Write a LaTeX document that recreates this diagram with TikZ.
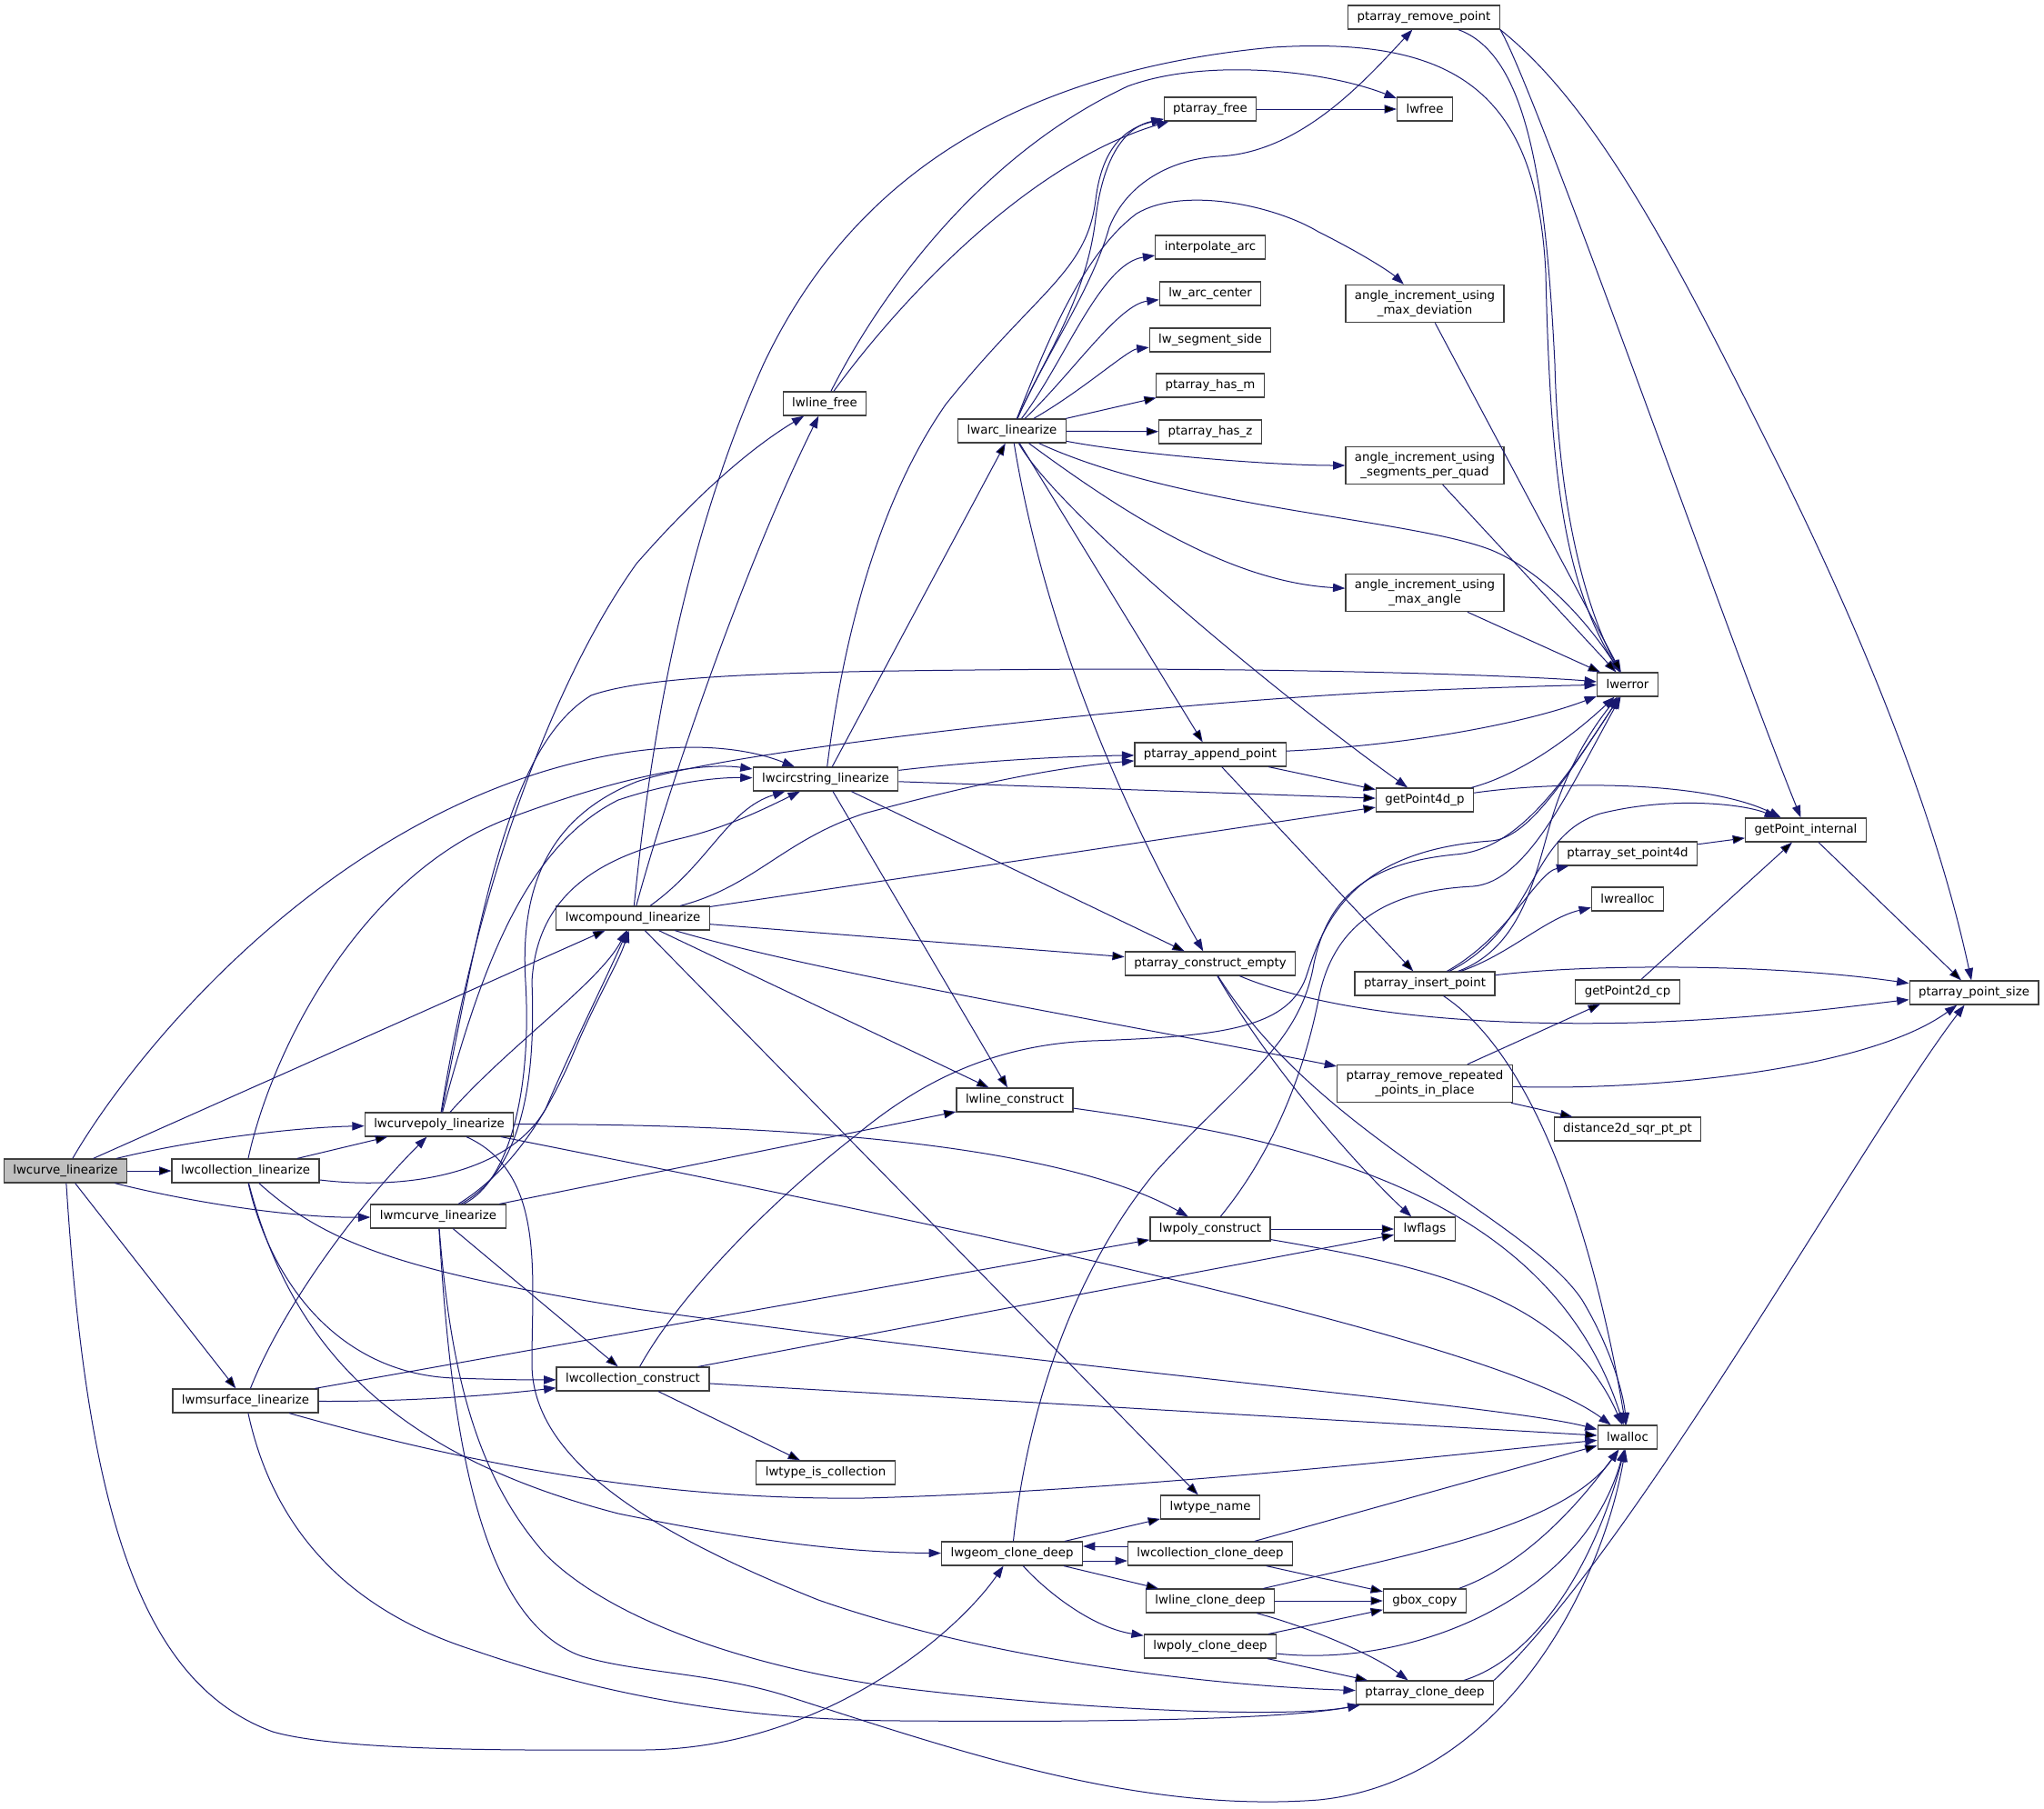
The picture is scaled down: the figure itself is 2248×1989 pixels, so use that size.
\documentclass[tikz,border=0pt]{standalone}
\usepackage{fontspec}
\setmainfont{DejaVu Sans}
\usetikzlibrary{arrows.meta}
\definecolor{edgeblue}{HTML}{191970}

\begin{document}
\begin{tikzpicture}[x=0.75pt, y=-0.75pt,
    fn/.style = {draw=black!75, line width=0.9pt, fill=white, font=\fontsize{10}{11.4}\selectfont,
                 inner xsep=7.5pt, inner ysep=2pt, minimum height=19.5pt},
    fntwo/.style = {fn, align=center, minimum height=31pt},
    arr/.style = {draw=edgeblue, line width=0.75pt, -{Triangle[length=10pt, width=7pt]}}]
    \useasboundingbox (0,0) rectangle (2248,1989);

    \node[fn, fill=black!25] (curve) at (72,1288) {lwcurve\_linearize};
    \node[fn] (colllin)  at (270,1288)  {lwcollection\_linearize};
    \node[fn] (msurf)    at (270,1541)  {lwmsurface\_linearize};
    \node[fn] (cpoly)    at (483,1237)  {lwcurvepoly\_linearize};
    \node[fn] (mcurve)   at (482,1338)  {lwmcurve\_linearize};
    \node[fn] (compound) at (696,1010)  {lwcompound\_linearize};
    \node[fn] (collcons) at (696,1517)  {lwcollection\_construct};
    \node[fn] (circ)     at (908,857)   {lwcircstring\_linearize};
    \node[fn] (linefree) at (907,444)   {lwline\_free};
    \node[fn] (iscoll)   at (908,1620)  {lwtype\_is\_collection};
    \node[fn] (arc)      at (1113,474)  {lwarc\_linearize};
    \node[fn] (linecons) at (1116,1210) {lwline\_construct};
    \node[fn] (gclone)   at (1113,1709) {lwgeom\_clone\_deep};
    \node[fn] (pafree)   at (1331,120)  {ptarray\_free};
    \node[fn] (interp)   at (1331,272)  {interpolate\_arc};
    \node[fn] (arccen)   at (1331,323)  {lw\_arc\_center};
    \node[fn] (segside)  at (1331,374)  {lw\_segment\_side};
    \node[fn] (hasm)     at (1331,424)  {ptarray\_has\_m};
    \node[fn] (hasz)     at (1331,475)  {ptarray\_has\_z};
    \node[fn] (append)   at (1331,830)  {ptarray\_append\_point};
    \node[fn] (cempty)   at (1331,1060) {ptarray\_construct\_empty};
    \node[fn] (polycons) at (1331,1352) {lwpoly\_construct};
    \node[fn] (tname)    at (1331,1658) {lwtype\_name};
    \node[fn] (cclone)   at (1331,1709) {lwcollection\_clone\_deep};
    \node[fn] (lclone)   at (1331,1761) {lwline\_clone\_deep};
    \node[fn] (pclone)   at (1331,1811) {lwpoly\_clone\_deep};
    \node[fn] (rmpt)     at (1566,19)   {ptarray\_remove\_point};
    \node[fn] (lwfree)   at (1567,120)  {lwfree};
    \node[fntwo] (maxdev)  at (1567,334) {angle\_increment\_using\\\_max\_deviation};
    \node[fntwo] (segquad) at (1567,512) {angle\_increment\_using\\\_segments\_per\_quad};
    \node[fntwo] (maxang)  at (1567,652) {angle\_increment\_using\\\_max\_angle};
    \node[fn] (getpfour) at (1567,880)  {getPoint4d\_p};
    \node[fn] (insert)   at (1567,1082) {ptarray\_insert\_point};
    \node[fntwo] (rmrep) at (1567,1192) {ptarray\_remove\_repeated\\\_points\_in\_place};
    \node[fn] (flags)    at (1567,1352) {lwflags};
    \node[fn] (gbox)     at (1567,1761) {gbox\_copy};
    \node[fn] (paclone)  at (1567,1862) {ptarray\_clone\_deep};
    \node[fn] (lwerror)  at (1790,753)  {lwerror};
    \node[fn] (setpt)    at (1790,939)  {ptarray\_set\_point4d};
    \node[fn] (realloc)  at (1790,989)  {lwrealloc};
    \node[fn] (getptwo)  at (1790,1091) {getPoint2d\_cp};
    \node[fn] (dist)     at (1790,1242) {distance2d\_sqr\_pt\_pt};
    \node[fn] (alloc)    at (1790,1581) {lwalloc};
    \node[fn] (getpi)    at (1986,913)  {getPoint\_internal};
    \node[fn] (ptsize)   at (2171,1092) {ptarray\_point\_size};

    % lwcurve_linearize
    \draw[arr] (curve) edge (colllin);
    \draw[arr] (curve) .. controls (220,1252) and (330,1240) .. (cpoly);
    \draw[arr] (curve) .. controls (220,1325) and (330,1340) .. (mcurve);
    \draw[arr] (curve) edge (msurf);
    \draw[arr] (curve) edge (compound);
    \draw[arr] (curve) .. controls (140,1170) and (330,930) .. (600,848) .. controls (720,812) and (810,818) .. (circ);
    \draw[arr] (curve) .. controls (95,1650) and (150,1850) .. (300,1905) .. controls (380,1928) and (600,1925) .. (705,1925) .. controls (900,1925) and (1050,1800) .. (gclone);

    % lwcollection_linearize
    \draw[arr] (colllin) edge (cpoly);
    \draw[arr] (colllin) .. controls (300,1150) and (400,960) .. (560,900) .. controls (680,855) and (770,838) .. (circ);
    \draw[arr] (colllin) .. controls (450,1310) and (560,1290) .. (600,1220) .. controls (630,1150) and (665,1080) .. (compound);
    \draw[arr] (colllin) .. controls (300,1420) and (380,1512) .. (500,1516) .. controls (560,1518) and (590,1518) .. (collcons);
    \draw[arr] (colllin) .. controls (320,1480) and (430,1600) .. (680,1665) .. controls (850,1700) and (950,1708) .. (gclone);
    \draw[arr] (colllin) .. controls (360,1370) and (450,1400) .. (700,1440) .. controls (1200,1510) and (1650,1545) .. (alloc);

    % lwmsurface_linearize
    \draw[arr] (msurf) .. controls (310,1440) and (390,1330) .. (cpoly);
    \draw[arr] (msurf) edge (polycons);
    \draw[arr] (msurf) .. controls (450,1542) and (540,1535) .. (collcons);
    \draw[arr] (msurf) .. controls (550,1620) and (750,1650) .. (950,1648) .. controls (1250,1640) and (1600,1600) .. (alloc);
    \draw[arr] (msurf) .. controls (300,1680) and (380,1770) .. (520,1815) .. controls (650,1860) and (800,1893) .. (1000,1893) .. controls (1250,1895) and (1420,1890) .. (paclone);

    % lwcurvepoly_linearize
    \draw[arr] (cpoly) .. controls (520,1000) and (600,760) .. (700,620) .. controls (770,540) and (830,490) .. (linefree);
    \draw[arr] (cpoly) .. controls (530,1000) and (560,820) .. (650,765) .. controls (720,740) and (900,738) .. (1200,736) .. controls (1500,736) and (1700,745) .. (lwerror);
    \draw[arr] (cpoly) .. controls (530,1060) and (580,930) .. (680,880) .. controls (740,860) and (790,855) .. (circ);
    \draw[arr] (cpoly) .. controls (560,1150) and (660,1080) .. (compound);
    \draw[arr] (cpoly) .. controls (800,1236) and (1150,1250) .. (polycons);
    \draw[arr] (cpoly) .. controls (1000,1340) and (1640,1470) .. (alloc);
    \draw[arr] (cpoly) .. controls (600,1290) and (585,1400) .. (585,1500) .. controls (585,1600) and (700,1680) .. (900,1760) .. controls (1100,1830) and (1350,1855) .. (paclone);

    % lwmcurve_linearize
    \draw[arr] (mcurve) .. controls (570,1290) and (590,1200) .. (585,1080) .. controls (590,990) and (650,945) .. (750,922) .. controls (800,910) and (840,890) .. (circ);
    \draw[arr] (mcurve) .. controls (560,1290) and (600,1230) .. (630,1160) .. controls (655,1100) and (680,1060) .. (compound);
    \draw[arr] (mcurve) .. controls (560,1300) and (585,1200) .. (578,1080) .. controls (572,980) and (600,900) .. (700,860) .. controls (800,825) and (1300,770) .. (1550,760) .. controls (1650,756) and (1720,754) .. (lwerror);
    \draw[arr] (mcurve) edge (linecons);
    \draw[arr] (mcurve) edge (collcons);
    \draw[arr] (mcurve) .. controls (495,1500) and (520,1620) .. (600,1710) .. controls (680,1790) and (850,1840) .. (1000,1858) .. controls (1200,1882) and (1420,1890) .. (paclone);
    \draw[arr] (mcurve) .. controls (495,1550) and (520,1780) .. (640,1822) .. controls (700,1840) and (780,1840) .. (860,1864) .. controls (1050,1925) and (1250,1995) .. (1450,1980) .. controls (1650,1960) and (1760,1750) .. (alloc);

    % lwcompound_linearize
    \draw[arr] (compound) .. controls (780,950) and (800,890) .. (circ);
    \draw[arr] (compound) .. controls (740,850) and (820,620) .. (linefree);
    \draw[arr] (compound) .. controls (715,820) and (750,600) .. (840,400) .. controls (930,210) and (1100,80) .. (1400,52) .. controls (1600,40) and (1690,100) .. (1700,300) .. controls (1705,520) and (1720,640) .. (lwerror);
    \draw[arr] (compound) .. controls (830,975) and (860,925) .. (950,895) .. controls (1050,868) and (1150,845) .. (append);
    \draw[arr] (compound) edge (getpfour);
    \draw[arr] (compound) edge (cempty);
    \draw[arr] (compound) .. controls (900,1070) and (1200,1120) .. (rmrep);
    \draw[arr] (compound) edge (linecons);
    \draw[arr] (compound) edge (tname);

    % lwcircstring_linearize
    \draw[arr] (circ) edge (arc);
    \draw[arr] (circ) .. controls (925,720) and (960,560) .. (1040,445) .. controls (1140,320) and (1195,300) .. (1205,220) .. controls (1212,160) and (1240,140) .. (pafree);
    \draw[arr] (circ) .. controls (1050,840) and (1150,832) .. (append);
    \draw[arr] (circ) edge (getpfour);
    \draw[arr] (circ) edge (cempty);
    \draw[arr] (circ) edge (linecons);

    % lwline_free
    \draw[arr] (linefree) .. controls (990,330) and (1130,180) .. (pafree);
    \draw[arr] (linefree) .. controls (970,320) and (1080,170) .. (1240,95) .. controls (1320,65) and (1450,75) .. (lwfree);
    \draw[arr] (pafree) edge (lwfree);

    % lwarc_linearize
    \draw[arr] (arc) .. controls (1145,400) and (1195,330) .. (1205,240) .. controls (1215,160) and (1245,138) .. (pafree);
    \draw[arr] (arc) .. controls (1150,390) and (1200,320) .. (1220,250) .. controls (1240,200) and (1290,175) .. (1340,172) .. controls (1430,168) and (1500,90) .. (rmpt);
    \draw[arr] (arc) .. controls (1150,380) and (1190,280) .. (1250,235) .. controls (1300,205) and (1400,225) .. (1450,255) .. controls (1500,280) and (1530,300) .. (maxdev);
    \draw[arr] (arc) .. controls (1170,400) and (1210,290) .. (interp);
    \draw[arr] (arc) .. controls (1180,410) and (1230,335) .. (arccen);
    \draw[arr] (arc) .. controls (1190,430) and (1240,385) .. (segside);
    \draw[arr] (arc) edge (hasm);
    \draw[arr] (arc) edge (hasz);
    \draw[arr] (arc) .. controls (1250,500) and (1400,512) .. (segquad);
    \draw[arr] (arc) .. controls (1230,560) and (1350,640) .. (maxang);
    \draw[arr] (arc) .. controls (1300,560) and (1550,570) .. (1640,605) .. controls (1700,630) and (1750,690) .. (lwerror);
    \draw[arr] (arc) edge (append);
    \draw[arr] (arc) .. controls (1160,560) and (1400,760) .. (getpfour);
    \draw[arr] (arc) .. controls (1150,700) and (1240,900) .. (cempty);

    % lwcollection_construct, lwpoly_construct, lwline_construct
    \draw[arr] (collcons) edge (alloc);
    \draw[arr] (collcons) edge (flags);
    \draw[arr] (collcons) edge (iscoll);
    \draw[arr] (collcons) .. controls (750,1420) and (850,1320) .. (940,1250) .. controls (1000,1200) and (1080,1150) .. (1200,1145) .. controls (1350,1140) and (1420,1130) .. (1438,1070) .. controls (1460,1000) and (1500,935) .. (1640,925) .. controls (1680,922) and (1720,860) .. (lwerror);
    \draw[arr] (polycons) edge (flags);
    \draw[arr] (polycons) .. controls (1550,1390) and (1720,1420) .. (alloc);
    \draw[arr] (polycons) .. controls (1390,1280) and (1430,1200) .. (1450,1100) .. controls (1465,1020) and (1520,980) .. (1620,975) .. controls (1680,970) and (1725,870) .. (lwerror);
    \draw[arr] (linecons) .. controls (1400,1250) and (1700,1300) .. (alloc);

    % lwgeom_clone_deep and the clones
    \draw[arr] (gclone) edge (tname);
    \draw[arr] ([yshift=-6pt]gclone.east) -- ([yshift=-6pt]cclone.west);
    \draw[arr] ([yshift=6pt]cclone.west) -- ([yshift=6pt]gclone.east);
    \draw[arr] (gclone) edge (lclone);
    \draw[arr] (gclone) .. controls (1150,1750) and (1200,1790) .. (pclone);
    \draw[arr] (gclone) .. controls (1130,1550) and (1180,1400) .. (1270,1290) .. controls (1360,1190) and (1430,1150) .. (1445,1060) .. controls (1460,990) and (1500,950) .. (1600,940) .. controls (1670,935) and (1720,860) .. (lwerror);
    \draw[arr] (cclone) edge (alloc);
    \draw[arr] (cclone) edge (gbox);
    \draw[arr] (lclone) edge (gbox);
    \draw[arr] (lclone) .. controls (1550,1710) and (1720,1680) .. (alloc);
    \draw[arr] (lclone) .. controls (1440,1790) and (1510,1820) .. (paclone);
    \draw[arr] (pclone) edge (gbox);
    \draw[arr] (pclone) edge (paclone);
    \draw[arr] (pclone) .. controls (1550,1835) and (1740,1760) .. (alloc);
    \draw[arr] (gbox) .. controls (1680,1720) and (1740,1650) .. (alloc);
    \draw[arr] (paclone) .. controls (1700,1820) and (1760,1700) .. (alloc);
    \draw[arr] (paclone.north east) .. controls (1800,1700) and (2050,1250) .. (ptsize);

    % point array helpers
    \draw[arr] (append) .. controls (1550,820) and (1680,795) .. (lwerror);
    \draw[arr] (append) edge (getpfour);
    \draw[arr] (append) edge (insert);
    \draw[arr] (cempty) .. controls (1400,1180) and (1500,1290) .. (flags);
    \draw[arr] (cempty) .. controls (1450,1250) and (1680,1340) .. (1740,1430) .. controls (1770,1480) and (1785,1530) .. (alloc);
    \draw[arr] (cempty) .. controls (1450,1110) and (1600,1130) .. (1800,1125) .. controls (1950,1120) and (2050,1105) .. (ptsize);
    \draw[arr] (getpfour) .. controls (1680,850) and (1740,800) .. (lwerror);
    \draw[arr] (getpfour) .. controls (1720,858) and (1880,860) .. (getpi);
    \draw[arr] (insert) .. controls (1680,1040) and (1690,950) .. (1710,890) .. controls (1730,830) and (1760,790) .. (lwerror);
    \draw[arr] (insert) .. controls (1660,1030) and (1690,960) .. (setpt);
    \draw[arr] (insert) .. controls (1660,1050) and (1700,1010) .. (realloc);
    \draw[arr] (insert) .. controls (1690,1020) and (1680,920) .. (1760,895) .. controls (1840,875) and (1920,885) .. (getpi);
    \draw[arr] (insert) .. controls (1750,1060) and (1950,1060) .. (ptsize);
    \draw[arr] (insert) .. controls (1700,1170) and (1760,1400) .. (alloc);
    \draw[arr] (rmrep) edge (getptwo);
    \draw[arr] (rmrep) edge (dist);
    \draw[arr] (rmrep) .. controls (1800,1200) and (2050,1180) .. (ptsize);
    \draw[arr] (getptwo) edge (getpi);
    \draw[arr] (setpt) edge (getpi);
    \draw[arr] (getpi) edge (ptsize);
    \draw[arr] (rmpt) .. controls (1680,60) and (1700,200) .. (1710,400) .. controls (1715,600) and (1760,700) .. (lwerror);
    \draw[arr] (rmpt.south east) .. controls (1690,100) and (1900,700) .. (getpi);
    \draw[arr] (rmpt.south east) .. controls (1760,120) and (1850,300) .. (1950,500) .. controls (2050,700) and (2130,900) .. (ptsize);
    \draw[arr] (maxdev) edge (lwerror);
    \draw[arr] (segquad) edge (lwerror);
    \draw[arr] (maxang) edge (lwerror);
\end{tikzpicture}
\end{document}
